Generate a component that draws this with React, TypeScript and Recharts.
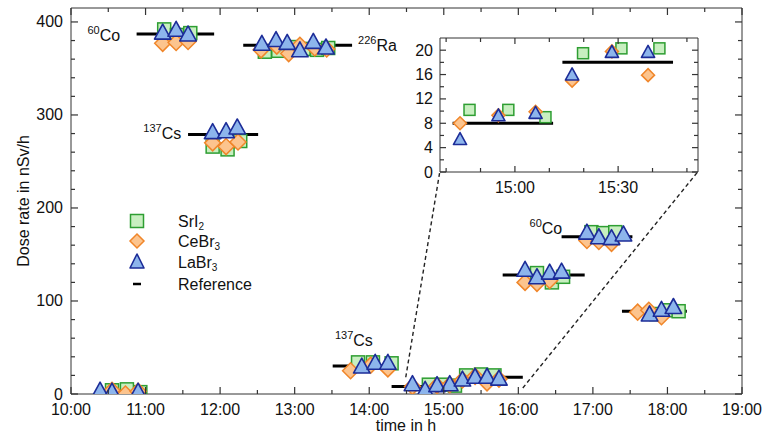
import React from 'react';
import { ComposedChart, Scatter, XAxis, YAxis, ReferenceDot, Legend } from 'recharts';

const FONT = '"Liberation Sans", Arial, Helvetica, sans-serif';
const AXIS_COLOR = '#333';
const TICK_COLOR = '#333';
const TEXT_COLOR = '#111';

const SQ = { fill: '#c8efc0', stroke: '#2e9e32' };
const DI = { fill: '#fcc48e', stroke: '#f0862a' };
const TR = { fill: '#8db5ec', stroke: '#1c2c98' };

// ---- main panel data (time in decimal hours, dose rate in nSv/h) ----
const sri2Time = [10.55, 10.75, 10.93, 11.25, 11.42, 11.6, 11.9, 12.1, 12.27, 12.6, 12.78, 12.95, 13.12, 13.3, 13.45, 13.85, 14.05, 14.3, 14.8, 14.97, 15.15, 15.3, 15.5, 15.68, 16.25, 16.45, 16.6, 16.98, 17.14, 17.3, 17.85, 18.0, 18.15];
const sri2Dose = [4, 5, 2, 392, 386, 388, 266, 263, 272, 368, 369, 373, 371, 370, 372, 34, 34, 33, 10, 10, 9, 20, 21, 20, 130, 120, 126, 174, 173, 174, 86, 90, 89];

const cebr3Time = [10.55, 10.73, 10.9, 11.23, 11.41, 11.57, 11.9, 12.08, 12.24, 12.55, 12.76, 12.92, 13.07, 13.27, 13.43, 13.75, 14.02, 14.25, 14.58, 14.91, 15.08, 15.25, 15.42, 15.58, 15.74, 16.09, 16.25, 16.42, 16.92, 17.08, 17.25, 17.6, 17.75, 17.92];
const cebr3Dose = [4, 0, 3, 377, 378, 379, 270, 266, 271, 370, 374, 366, 375, 372, 371, 25, 31, 27, 8, 9, 10, 15, 19, 12, 16, 120, 119, 122, 165, 164, 162, 88, 90, 83];

const labr3Time = [10.39, 10.55, 10.9, 11.23, 11.41, 11.57, 11.9, 12.08, 12.23, 12.56, 12.75, 12.9, 13.07, 13.25, 13.42, 13.9, 14.08, 14.25, 14.58, 14.75, 14.91, 15.08, 15.25, 15.42, 15.58, 15.74, 16.09, 16.25, 16.42, 16.58, 16.92, 17.08, 17.25, 17.41, 17.76, 17.92, 18.08];
const labr3Dose = [3, 2, 2, 388, 391, 386, 281, 282, 286, 376, 380, 377, 369, 378, 372, 29, 33, 33, 10, 4, 9, 10, 15, 18, 18, 16, 133, 125, 130, 131, 173, 168, 167, 171, 85, 90, 93];

// reference values: start time, end time, dose rate
const refStart = [10.88, 12.31, 11.57, 13.51, 14.3, 15.2, 15.79, 16.58, 17.39];
const refEnd = [11.92, 13.77, 12.51, 14.37, 15.2, 16.06, 16.89, 17.53, 18.26];
const refDose = [387, 375, 279, 30, 8, 18, 128, 169, 89];

// isotope annotations
const isoMass = ['60', '226', '137', '137', '60'];
const isoName = ['Co', 'Ra', 'Cs', 'Cs', 'Co'];
const isoTime = [10.22, 13.85, 10.97, 13.54, 16.15];
const isoDose = [386, 375, 281, 58, 178];

// ---- inset data ----
const inSri2Time = [14.78, 14.968, 15.148, 15.33, 15.516, 15.7];
const inSri2Dose = [10.2, 10.2, 9.0, 19.5, 20.3, 20.3];
const inCebr3Time = [14.734, 14.92, 15.1, 15.277, 15.47, 15.645];
const inCebr3Dose = [8.0, 9.3, 9.9, 15.0, 19.8, 15.9];
const inLabr3Time = [14.734, 14.92, 15.1, 15.277, 15.47, 15.645];
const inLabr3Dose = [5.3, 9.2, 9.6, 15.9, 19.6, 19.6];
const inRefStart = [14.698, 15.23];
const inRefEnd = [15.185, 15.766];
const inRefDose = [8, 18];

// zoom connector lines (main-panel data units): bottom point -> inset corner
const linkFromTime = [14.49, 16.06];
const linkFromDose = [18, 6.5];
const linkToTime = [14.946, 18.405];
const linkToDose = [238.7, 238.7];

// ---- ticks ----
const xMajor = [10, 11, 12, 13, 14, 15, 16, 17, 18, 19];
const xTicks = [10, 10.5, 11, 11.5, 12, 12.5, 13, 13.5, 14, 14.5, 15, 15.5, 16, 16.5, 17, 17.5, 18, 18.5, 19];
const yMajor = [0, 100, 200, 300, 400];
const yTicks = [0, 20, 40, 60, 80, 100, 120, 140, 160, 180, 200, 220, 240, 260, 280, 300, 320, 340, 360, 380, 400];
const inXMajor = [15, 15.5];
const inXTicks = [14 + 40 / 60, 14 + 50 / 60, 15, 15 + 10 / 60, 15 + 20 / 60, 15.5, 15 + 40 / 60, 15 + 50 / 60];
const inYMajor = [0, 4, 8, 12, 16, 20];
const inYTicks = [0, 2, 4, 6, 8, 10, 12, 14, 16, 18, 20];

const pts = (ts: number[], vs: number[]) => ts.map((t, i) => ({ t, v: vs[i] }));
const fmtTime = (h: number) => {
  const hh = Math.floor(h + 1e-9);
  const mm = Math.round((h - hh) * 60);
  return `${hh}:${String(mm).padStart(2, '0')}`;
};
const fmtNum = (v: number) => String(v);

const makeTick = (
  orient: 'bottom' | 'top' | 'left' | 'right',
  majors: number[],
  fmt: ((v: number) => string) | null,
  majorLen: number,
  minorLen: number,
  labelOff: number
) => (props: any) => {
  const x = Number(props.x);
  const y = Number(props.y);
  const v = props.payload.value;
  const isMajor = majors.some((m) => Math.abs(m - v) < 1e-6);
  const len = isMajor ? majorLen : minorLen;
  let x2 = x;
  let y2 = y;
  if (orient === 'bottom') y2 = y - len;
  if (orient === 'top') y2 = y + len;
  if (orient === 'left') x2 = x + len;
  if (orient === 'right') x2 = x - len;
  let label = null;
  if (fmt && isMajor) {
    if (orient === 'bottom') {
      label = (
        <text x={x} y={y + labelOff} textAnchor="middle" fontSize={16} fontFamily={FONT} fill={TEXT_COLOR}>
          {fmt(v)}
        </text>
      );
    } else if (orient === 'left') {
      label = (
        <text x={x - labelOff} y={y} textAnchor="end" dominantBaseline="central" fontSize={16} fontFamily={FONT} fill={TEXT_COLOR}>
          {fmt(v)}
        </text>
      );
    }
  }
  return (
    <g>
      {len > 0 && <path d={`M${x},${y}L${x2},${y2}`} stroke={TICK_COLOR} strokeWidth={1.2} fill="none" />}
      {label}
    </g>
  );
};

const squareShape = (s: number) => (p: any) =>
  p.cx == null ? <g /> : (
    <rect x={p.cx - s / 2} y={p.cy - s / 2} width={s} height={s} fill={SQ.fill} stroke={SQ.stroke} strokeWidth={1.5} />
  );
const diamondShape = (s: number) => (p: any) => {
  if (p.cx == null) return <g />;
  const h = s / 2;
  return (
    <polygon
      points={`${p.cx},${p.cy - h} ${p.cx + h},${p.cy} ${p.cx},${p.cy + h} ${p.cx - h},${p.cy}`}
      fill={DI.fill}
      stroke={DI.stroke}
      strokeWidth={1.5}
    />
  );
};
const triangleShape = (s: number) => (p: any) => {
  if (p.cx == null) return <g />;
  return (
    <polygon
      points={`${p.cx},${p.cy - s * 0.6} ${p.cx + s * 0.55},${p.cy + s * 0.4} ${p.cx - s * 0.55},${p.cy + s * 0.4}`}
      fill={TR.fill}
      stroke={TR.stroke}
      strokeWidth={1.6}
      strokeLinejoin="round"
    />
  );
};
const noShape = () => <g />;

const Iso = ({ cx, cy, mass, el }: any) => (
  <text x={cx} y={cy} dominantBaseline="central" fontFamily={FONT} fill={TEXT_COLOR} fontSize={16}>
    <tspan fontSize={11} dy={-5}>{mass}</tspan>
    <tspan dy={5}>{el}</tspan>
  </text>
);

const LegendBox = () => {
  const rows = [15, 35, 56, 78];
  const ix = 19;
  const tx = 60;
  const ts = { fontSize: 16, fontFamily: FONT, fill: TEXT_COLOR } as any;
  return (
    <svg width={170} height={95} style={{ overflow: 'visible' }}>
      <rect x={ix - 6.5} y={rows[0] - 6.5} width={13} height={13} fill={SQ.fill} stroke={SQ.stroke} strokeWidth={1.5} />
      <polygon points={`${ix},${rows[1] - 7} ${ix + 7},${rows[1]} ${ix},${rows[1] + 7} ${ix - 7},${rows[1]}`} fill={DI.fill} stroke={DI.stroke} strokeWidth={1.5} />
      <polygon points={`${ix},${rows[2] - 8} ${ix + 7},${rows[2] + 6} ${ix - 7},${rows[2] + 6}`} fill={TR.fill} stroke={TR.stroke} strokeWidth={1.6} strokeLinejoin="round" />
      <line x1={ix - 4} x2={ix + 4} y1={rows[3]} y2={rows[3]} stroke="#000" strokeWidth={2.5} />
      <text x={tx} y={rows[0]} dominantBaseline="central" {...ts}>SrI<tspan fontSize={10} dy={5}>2</tspan></text>
      <text x={tx} y={rows[1]} dominantBaseline="central" {...ts}>CeBr<tspan fontSize={10} dy={5}>3</tspan></text>
      <text x={tx} y={rows[2]} dominantBaseline="central" {...ts}>LaBr<tspan fontSize={10} dy={5}>3</tspan></text>
      <text x={tx} y={rows[3]} dominantBaseline="central" {...ts}>Reference</text>
    </svg>
  );
};

// axis 1 = frame line + inward ticks (next to the plot), axis 2 = labels only
const MainChart = () => (
  <ComposedChart width={764} height={443} margin={{ top: 7, right: 21, bottom: 0, left: 0 }}>
    <XAxis xAxisId={1} orientation="bottom" type="number" dataKey="t" domain={[10, 19]} allowDataOverflow ticks={xTicks} interval={0} tickSize={0} tickMargin={0} height={1} stroke={AXIS_COLOR} tick={makeTick('bottom', xMajor, null, 7, 4, 0)} />
    <XAxis xAxisId={2} orientation="bottom" type="number" dataKey="t" domain={[10, 19]} allowDataOverflow ticks={xMajor} interval={0} tickSize={0} tickMargin={0} height={48} axisLine={false} tickLine={false} tick={makeTick('bottom', xMajor, fmtTime, 0, 0, 20)} />
    <XAxis xAxisId="top" orientation="top" type="number" dataKey="t" domain={[10, 19]} allowDataOverflow ticks={xTicks} interval={0} tickSize={0} tickMargin={0} height={1} stroke={AXIS_COLOR} tick={makeTick('top', xMajor, null, 7, 4, 0)} />
    <YAxis yAxisId={1} orientation="left" type="number" dataKey="v" domain={[0, 415]} allowDataOverflow ticks={yTicks} interval={0} tickSize={0} tickMargin={0} width={1} stroke={AXIS_COLOR} tick={makeTick('left', yMajor, null, 7, 4, 0)} />
    <YAxis yAxisId={2} orientation="left" type="number" dataKey="v" domain={[0, 415]} allowDataOverflow ticks={yMajor} interval={0} tickSize={0} tickMargin={0} width={70} axisLine={false} tickLine={false} tick={makeTick('left', yMajor, fmtNum, 0, 0, 7)} />
    <YAxis yAxisId="right" orientation="right" type="number" dataKey="v" domain={[0, 415]} allowDataOverflow ticks={yTicks} interval={0} tickSize={0} tickMargin={0} width={1} stroke={AXIS_COLOR} tick={makeTick('right', yMajor, null, 7, 4, 0)} />

    <Scatter xAxisId="top" yAxisId="right" data={[{ t: refStart[0], v: refDose[0] }]} shape={noShape} legendType="none" isAnimationActive={false} />
    <Scatter xAxisId={2} yAxisId={2} data={[{ t: refStart[0], v: refDose[0] }]} shape={noShape} legendType="none" isAnimationActive={false} />

    {refDose.map((d, i) => (
      <Scatter
        key={`ref${i}`}
        xAxisId={1}
        yAxisId={1}
        data={[{ t: refStart[i], v: d }, { t: refEnd[i], v: d }]}
        line={{ stroke: '#000', strokeWidth: 3 }}
        shape={noShape}
        legendType="none"
        isAnimationActive={false}
      />
    ))}
    {linkFromTime.map((t, i) => (
      <Scatter
        key={`link${i}`}
        xAxisId={1}
        yAxisId={1}
        data={[{ t, v: linkFromDose[i] }, { t: linkToTime[i], v: linkToDose[i] }]}
        line={{ stroke: '#222', strokeWidth: 1.4, strokeDasharray: '4 3' }}
        shape={noShape}
        legendType="none"
        isAnimationActive={false}
      />
    ))}
    <Scatter xAxisId={1} yAxisId={1} name="SrI2" data={pts(sri2Time, sri2Dose)} shape={squareShape(13)} isAnimationActive={false} />
    <Scatter xAxisId={1} yAxisId={1} name="CeBr3" data={pts(cebr3Time, cebr3Dose)} shape={diamondShape(16)} isAnimationActive={false} />
    <Scatter xAxisId={1} yAxisId={1} name="LaBr3" data={pts(labr3Time, labr3Dose)} shape={triangleShape(15)} isAnimationActive={false} />

    {isoTime.map((t, i) => (
      <ReferenceDot
        key={`iso${i}`}
        xAxisId={1}
        yAxisId={1}
        x={t}
        y={isoDose[i]}
        r={0}
        shape={(p: any) => <Iso cx={p.cx} cy={p.cy} mass={isoMass[i]} el={isoName[i]} />}
      />
    ))}

    <Legend
      layout="vertical"
      align="center"
      verticalAlign="middle"
      wrapperStyle={{ left: 118, top: 206, width: 170, height: 95 }}
      content={() => <LegendBox />}
    />
  </ComposedChart>
);

const InsetChart = () => (
  <ComposedChart width={310} height={180} margin={{ top: 17, right: 11, bottom: 0, left: 0 }}>
    <XAxis xAxisId={1} orientation="bottom" type="number" dataKey="t" domain={[14.637, 15.887]} allowDataOverflow ticks={inXTicks} interval={0} tickSize={0} tickMargin={0} height={1} stroke={AXIS_COLOR} tick={makeTick('bottom', inXMajor, null, 6, 4, 0)} />
    <XAxis xAxisId={2} orientation="bottom" type="number" dataKey="t" domain={[14.637, 15.887]} allowDataOverflow ticks={inXMajor} interval={0} tickSize={0} tickMargin={0} height={27} axisLine={false} tickLine={false} tick={makeTick('bottom', inXMajor, fmtTime, 0, 0, 20)} />
    <XAxis xAxisId="top" orientation="top" type="number" dataKey="t" domain={[14.637, 15.887]} allowDataOverflow ticks={inXTicks} interval={0} tickSize={0} tickMargin={0} height={1} stroke={AXIS_COLOR} tick={makeTick('top', inXMajor, null, 6, 4, 0)} />
    <YAxis yAxisId={1} orientation="left" type="number" dataKey="v" domain={[0, 22]} allowDataOverflow ticks={inYTicks} interval={0} tickSize={0} tickMargin={0} width={1} stroke={AXIS_COLOR} tick={makeTick('left', inYMajor, null, 6, 4, 0)} />
    <YAxis yAxisId={2} orientation="left" type="number" dataKey="v" domain={[0, 22]} allowDataOverflow ticks={inYMajor} interval={0} tickSize={0} tickMargin={0} width={39} axisLine={false} tickLine={false} tick={makeTick('left', inYMajor, fmtNum, 0, 0, 6)} />
    <YAxis yAxisId="right" orientation="right" type="number" dataKey="v" domain={[0, 22]} allowDataOverflow ticks={inYTicks} interval={0} tickSize={0} tickMargin={0} width={1} stroke={AXIS_COLOR} tick={makeTick('right', inYMajor, null, 6, 4, 0)} />

    <Scatter xAxisId="top" yAxisId="right" data={[{ t: inRefStart[0], v: inRefDose[0] }]} shape={noShape} legendType="none" isAnimationActive={false} />
    <Scatter xAxisId={2} yAxisId={2} data={[{ t: inRefStart[0], v: inRefDose[0] }]} shape={noShape} legendType="none" isAnimationActive={false} />
    {inRefDose.map((d, i) => (
      <Scatter
        key={`iref${i}`}
        xAxisId={1}
        yAxisId={1}
        data={[{ t: inRefStart[i], v: d }, { t: inRefEnd[i], v: d }]}
        line={{ stroke: '#000', strokeWidth: 3 }}
        shape={noShape}
        legendType="none"
        isAnimationActive={false}
      />
    ))}
    <Scatter xAxisId={1} yAxisId={1} name="SrI2" data={pts(inSri2Time, inSri2Dose)} shape={squareShape(11)} isAnimationActive={false} />
    <Scatter xAxisId={1} yAxisId={1} name="CeBr3" data={pts(inCebr3Time, inCebr3Dose)} shape={diamondShape(13)} isAnimationActive={false} />
    <Scatter xAxisId={1} yAxisId={1} name="LaBr3" data={pts(inLabr3Time, inLabr3Dose)} shape={triangleShape(12)} isAnimationActive={false} />
  </ComposedChart>
);

export default function App() {
  return (
    <div style={{ position: 'absolute', left: 0, top: 0, width: 764, height: 443, background: '#fff', fontFamily: FONT }}>
      <div style={{ position: 'absolute', left: 0, top: 0 }}>
        <MainChart />
      </div>
      <div style={{ position: 'absolute', left: 400, top: 20 }}>
        <InsetChart />
      </div>
      <div
        style={{
          position: 'absolute',
          left: 406,
          top: 416,
          transform: 'translateX(-50%)',
          fontSize: 16,
          lineHeight: '20px',
          color: TEXT_COLOR,
          whiteSpace: 'nowrap',
        }}
      >
        time in h
      </div>
      <div
        style={{
          position: 'absolute',
          left: 24,
          top: 201,
          transform: 'translate(-50%, -50%) rotate(-90deg)',
          fontSize: 16,
          lineHeight: '20px',
          color: TEXT_COLOR,
          whiteSpace: 'nowrap',
        }}
      >
        Dose rate in nSv/h
      </div>
    </div>
  );
}
